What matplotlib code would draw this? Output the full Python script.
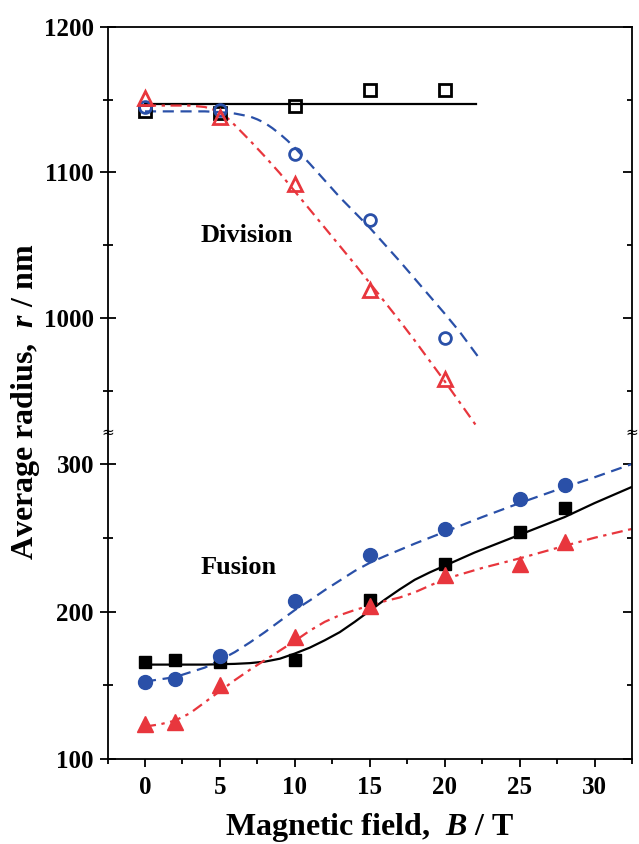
import numpy as np
import matplotlib
matplotlib.use("Agg")
import matplotlib.pyplot as plt
from matplotlib.ticker import MultipleLocator
from matplotlib.lines import TICKLEFT

plt.rcParams['font.family'] = ['Liberation Serif', 'DejaVu Serif']
plt.rcParams['font.weight'] = 'bold'
plt.rcParams['mathtext.fontset'] = 'custom'
plt.rcParams['mathtext.rm'] = 'Liberation Serif:bold'
plt.rcParams['mathtext.bf'] = 'Liberation Serif:bold'
plt.rcParams['mathtext.it'] = 'Liberation Serif:bold:italic'
plt.rcParams['mathtext.bfit'] = 'Liberation Serif:bold:italic'

# ---- Division (upper panel) ----
div_B = [0, 5, 10, 15, 20]
div_sq = [1142, 1141, 1146, 1157, 1157]      # open squares
div_ci = [1145, 1143, 1113, 1067, 986]       # open circles
div_tr = [1151, 1138, 1092, 1019, 958]       # open triangles

fit_sq_B = [0, 22.1]
fit_sq = [1147, 1147]
fit_ci_B = [0, 4, 5, 6, 7, 7.5, 8, 8.5, 9, 9.5, 10, 11, 12, 13, 14, 15, 16, 17, 18, 19, 20, 21,
            22.4]
fit_ci = [1142, 1142, 1141.5, 1140.5, 1138.5, 1136.5, 1134, 1130.5, 1126.5, 1122, 1117, 1106,
          1094.5, 1083, 1072.5, 1062, 1050.5, 1039, 1027, 1015, 1003, 990.5, 971]
fit_tr_B = [0, 3, 4, 4.5, 5, 5.5, 6, 7, 8, 9, 10, 11, 12, 13, 14, 15, 16, 17, 18, 19, 20, 21,
            22.1]
fit_tr = [1146, 1146, 1145, 1143.5, 1141, 1137.5, 1132.5, 1122, 1111, 1099.5, 1087, 1074.5,
          1062, 1049.5, 1037, 1024, 1011, 998, 984.5, 970.5, 956.5, 942, 926]

# ---- Fusion (lower panel) ----
fus_B = [0, 2, 5, 10, 15, 20, 25, 28]
fus_sq = [166, 167, 166, 167, 208, 232, 254, 270]   # filled squares
fus_ci = [152, 154, 170, 207, 238, 256, 276, 286]   # filled circles
fus_tr = [124, 125, 150, 183, 204, 225, 232, 247]   # filled triangles

fit_fsq_B = [0, 4, 6, 7, 8, 9, 10, 11, 12, 13, 14, 15, 16, 17, 18, 19, 20, 22, 24, 26, 28, 30,
             32.5]
fit_fsq = [164, 164, 164.5, 165, 166, 168, 171.5, 175.5, 180.5, 186, 193, 200.5, 208, 215,
           221.5, 226.5, 231, 240, 248, 256, 264, 273.5, 284.5]
fit_fci_B = [0, 2, 4, 5, 6, 7, 8, 9, 10, 11, 12, 13, 14, 15, 16, 18, 20, 22.5, 25, 27.5, 30, 32.5]
fit_fci = [152.5, 155.5, 162, 167, 172.5, 179, 186, 193.5, 201, 207.5, 214.5, 221, 227.5, 233,
           237.5, 246, 254, 264, 273.5, 282.5, 291, 300]
fit_ftr_B = [0, 1, 2, 3, 4, 5, 6, 7, 8, 9, 10, 11, 12, 13, 14, 15, 16, 17, 18, 19, 20, 22.5, 25,
             28, 30, 32.5]
fit_ftr = [122, 123.5, 126, 131, 138.5, 146, 153.5, 160.5, 167, 173.5, 180, 187, 193, 197.5,
           201, 204, 207, 209.5, 213, 217.5, 222, 229.5, 236, 244.5, 250, 256]

blue = '#2a50a8'
red = '#e8363d'

fig = plt.figure(figsize=(6.39, 8.44), dpi=100)
left, width = 107.5 / 639, 524.5 / 639
y_break = (844 - 432) / 844
ax_lo = fig.add_axes([left, (844 - 759) / 844, width, y_break - (844 - 759) / 844])
ax_up = fig.add_axes([left, y_break, width, (844 - 27) / 844 - y_break])

dash = (0, (5, 3))
dashdot = (0, (5, 2.5, 1.5, 2.5))

# upper
ax_up.plot(fit_sq_B, fit_sq, color='black', lw=1.6)
ax_up.plot(fit_ci_B, fit_ci, color=blue, lw=1.6, ls=dash)
ax_up.plot(fit_tr_B, fit_tr, color=red, lw=1.6, ls=dashdot)
ax_up.plot(div_B, div_sq, 's', ms=8, mfc='none', mec='black', mew=2)
ax_up.plot(div_B, div_ci, 'o', ms=8.5, mfc='none', mec=blue, mew=2)
ax_up.plot(div_B, div_tr, '^', ms=10, mfc='none', mec=red, mew=2)

# lower
ax_lo.plot(fit_fsq_B, fit_fsq, color='black', lw=1.6)
ax_lo.plot(fit_fci_B, fit_fci, color=blue, lw=1.6, ls=dash)
ax_lo.plot(fit_ftr_B, fit_ftr, color=red, lw=1.6, ls=dashdot)
ax_lo.plot(fus_B, fus_sq, 's', ms=9, color='black')
ax_lo.plot(fus_B, fus_ci, 'o', ms=10, color=blue)
ax_lo.plot(fus_B, fus_tr, '^', ms=11, color=red)

for ax in (ax_up, ax_lo):
    ax.set_xlim(-2.5, 32.5)
    ax.xaxis.set_major_locator(MultipleLocator(5))
    ax.xaxis.set_minor_locator(MultipleLocator(2.5))
    ax.yaxis.set_major_locator(MultipleLocator(100))
    ax.yaxis.set_minor_locator(MultipleLocator(50))
    ax.tick_params(axis='y', which='both', left=True, right=True, direction='inout',
                   labelsize=18, width=1.3, pad=4)
    ax.tick_params(axis='y', which='major', length=11.5)
    ax.tick_params(axis='y', which='minor', length=6.5)
    for s in ax.spines.values():
        s.set_linewidth(1.3)
    ax.patch.set_alpha(0)

ax_up.set_ylim(921.6, 1200)
ax_lo.set_ylim(100, 321.7)
ax_up.spines['bottom'].set_visible(False)
ax_lo.spines['top'].set_visible(False)
ax_up.tick_params(axis='x', which='both', bottom=False, top=False, labelbottom=False)
ax_lo.tick_params(axis='x', which='both', bottom=True, top=False, direction='out',
                  labelsize=18, width=1.3, pad=7)
ax_lo.tick_params(axis='x', which='major', length=5.5)
ax_lo.tick_params(axis='x', which='minor', length=3.5)

# right side ticks point inward only
for ax in (ax_up, ax_lo):
    for t in ax.yaxis.get_major_ticks():
        t.tick2line.set_marker(TICKLEFT)
        t.tick2line.set_markersize(6.5)
    for t in ax.yaxis.get_minor_ticks():
        t.tick2line.set_marker(TICKLEFT)
        t.tick2line.set_markersize(3.8)

# break marks on both spines
for xa in (0, 1):
    ax_up.text(xa, 0, '\u2248', transform=ax_up.transAxes, ha='center', va='center',
               fontsize=11, fontweight='normal', family='DejaVu Sans')

ax_up.text(3.7, 1057, 'Division', fontsize=19, ha='left', va='center')
ax_lo.text(3.7, 230, 'Fusion', fontsize=19, ha='left', va='center')

fig.text(370 / 639, 1 - 828 / 844, 'Magnetic field,  $B$ / T', ha='center', va='center',
         fontsize=23)
fig.text(25.5 / 639, 1 - 402 / 844, 'Average radius,  $r$ / nm', ha='center', va='center',
         fontsize=23, rotation=90)

fig.savefig('out.png', dpi=100)
